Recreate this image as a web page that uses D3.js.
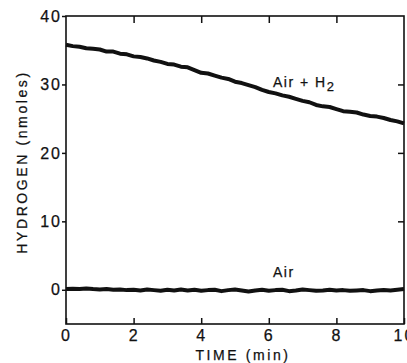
<!DOCTYPE html>
<html>
<head>
<meta charset="utf-8">
<script src="https://cdn.jsdelivr.net/npm/d3@7"></script>
<style>
  body { margin: 0; background: #fff; }
  text { font-family: "Liberation Sans", Arial, sans-serif; fill: #111; stroke: #111; stroke-width: 0.25px; }
</style>
</head>
<body>
<script>
// time points (min), every 0.2
var times = d3.range(0, 10.0001, 0.2);
// H2 trace, air + H2 (nmoles)
var airH2 = [35.8, 35.6, 35.5, 35.3, 35.2, 35.1, 34.8, 34.8, 34.5, 34.4,
             34.1, 34.0, 33.8, 33.5, 33.3, 33.0, 32.9, 32.6, 32.5, 32.1,
             31.7, 31.6, 31.3, 31.0, 30.8, 30.4, 30.2, 29.9, 29.6, 29.2,
             28.9, 28.7, 28.4, 28.2, 27.9, 27.6, 27.4, 27.0, 26.8, 26.7,
             26.4, 26.1, 26.0, 25.9, 25.6, 25.4, 25.3, 25.1, 24.8, 24.6, 24.3];
// H2 trace, air only
var airOnly = [0.1, 0.15, 0.1, 0.2, 0.1, 0.05, 0.1, 0.0, 0.05, -0.05,
               0.0, -0.1, 0.05, -0.05, -0.15, 0.0, -0.1, 0.05, -0.1, 0.0,
               -0.15, -0.05, 0.0, -0.2, -0.05, 0.05, -0.1, -0.25, -0.1, 0.0,
               -0.15, -0.05, 0.0, -0.2, -0.1, 0.05, -0.05, -0.15, -0.1, 0.0,
               -0.1, -0.05, -0.15, -0.1, -0.05, -0.2, -0.1, -0.05, -0.1, 0.0, 0.1];
var xTicks = [0, 2, 4, 6, 8, 10];
var yTicks = [0, 10, 20, 30, 40];

var W = 407, H = 363;
var margin = {top: 16, right: 3, bottom: 39, left: 66};

var svg = d3.select("body").append("svg")
    .attr("width", W)
    .attr("height", H);

var x = d3.scaleLinear().domain([0, 10]).range([margin.left, W - margin.right]);
var y = d3.scaleLinear().domain([-5, 40]).range([H - margin.bottom, margin.top]);

// frame
svg.append("rect")
    .attr("x", x(0)).attr("y", y(40))
    .attr("width", x(10) - x(0)).attr("height", y(-5) - y(40))
    .attr("fill", "none").attr("stroke", "#111").attr("stroke-width", 1.6);

function styleAxis(g) {
  g.select(".domain").remove();
  g.selectAll(".tick line").attr("stroke", "#111").attr("stroke-width", 1.5);
  g.selectAll(".tick text").attr("font-size", 16).style("letter-spacing", "2px");
}

// bottom axis, ticks inward
svg.append("g")
    .attr("transform", "translate(0," + y(-5) + ")")
    .call(d3.axisBottom(x).tickValues(xTicks).tickSize(-6).tickPadding(6).tickFormat(d3.format("d")))
    .call(styleAxis);

// top ticks inward
svg.append("g")
    .attr("transform", "translate(0," + y(40) + ")")
    .call(d3.axisTop(x).tickValues(xTicks.slice(1, -1)).tickSize(-7).tickFormat(""))
    .call(styleAxis);

// left axis, ticks outward
svg.append("g")
    .attr("transform", "translate(" + x(0) + ",0)")
    .call(d3.axisLeft(y).tickValues(yTicks).tickSize(4).tickPadding(0).tickFormat(d3.format("d")))
    .call(styleAxis);

// right ticks inward
svg.append("g")
    .attr("transform", "translate(" + x(10) + ",0)")
    .call(d3.axisRight(y).tickValues(yTicks.slice(0, -1)).tickSize(-6).tickFormat(""))
    .call(styleAxis);

var line = d3.line()
    .x(function(d, i) { return x(times[i]); })
    .y(function(d) { return y(d); });

[airH2, airOnly].forEach(function(s) {
  svg.append("path")
      .datum(s)
      .attr("d", line)
      .attr("fill", "none")
      .attr("stroke", "#111")
      .attr("stroke-width", 4)
      .attr("stroke-linejoin", "round");
});

// series labels
var lab = svg.append("text")
    .attr("x", 273).attr("y", 87)
    .attr("font-size", 14)
    .style("letter-spacing", "1.5px");
lab.append("tspan").text("Air + H");
lab.append("tspan").attr("dy", 4).attr("font-size", 13).text("2");

svg.append("text")
    .attr("x", 273).attr("y", 277)
    .attr("font-size", 14)
    .style("letter-spacing", "1.5px")
    .text("Air");

// axis titles
svg.append("text")
    .attr("x", 243).attr("y", 360)
    .attr("text-anchor", "middle")
    .attr("font-size", 14)
    .style("letter-spacing", "2.6px")
    .text("TIME (min)");

svg.append("text")
    .attr("transform", "translate(27," + 162 + ") rotate(-90)")
    .attr("text-anchor", "middle")
    .attr("font-size", 14)
    .style("letter-spacing", "2.6px")
    .text("HYDROGEN (nmoles)");
</script>
</body>
</html>
